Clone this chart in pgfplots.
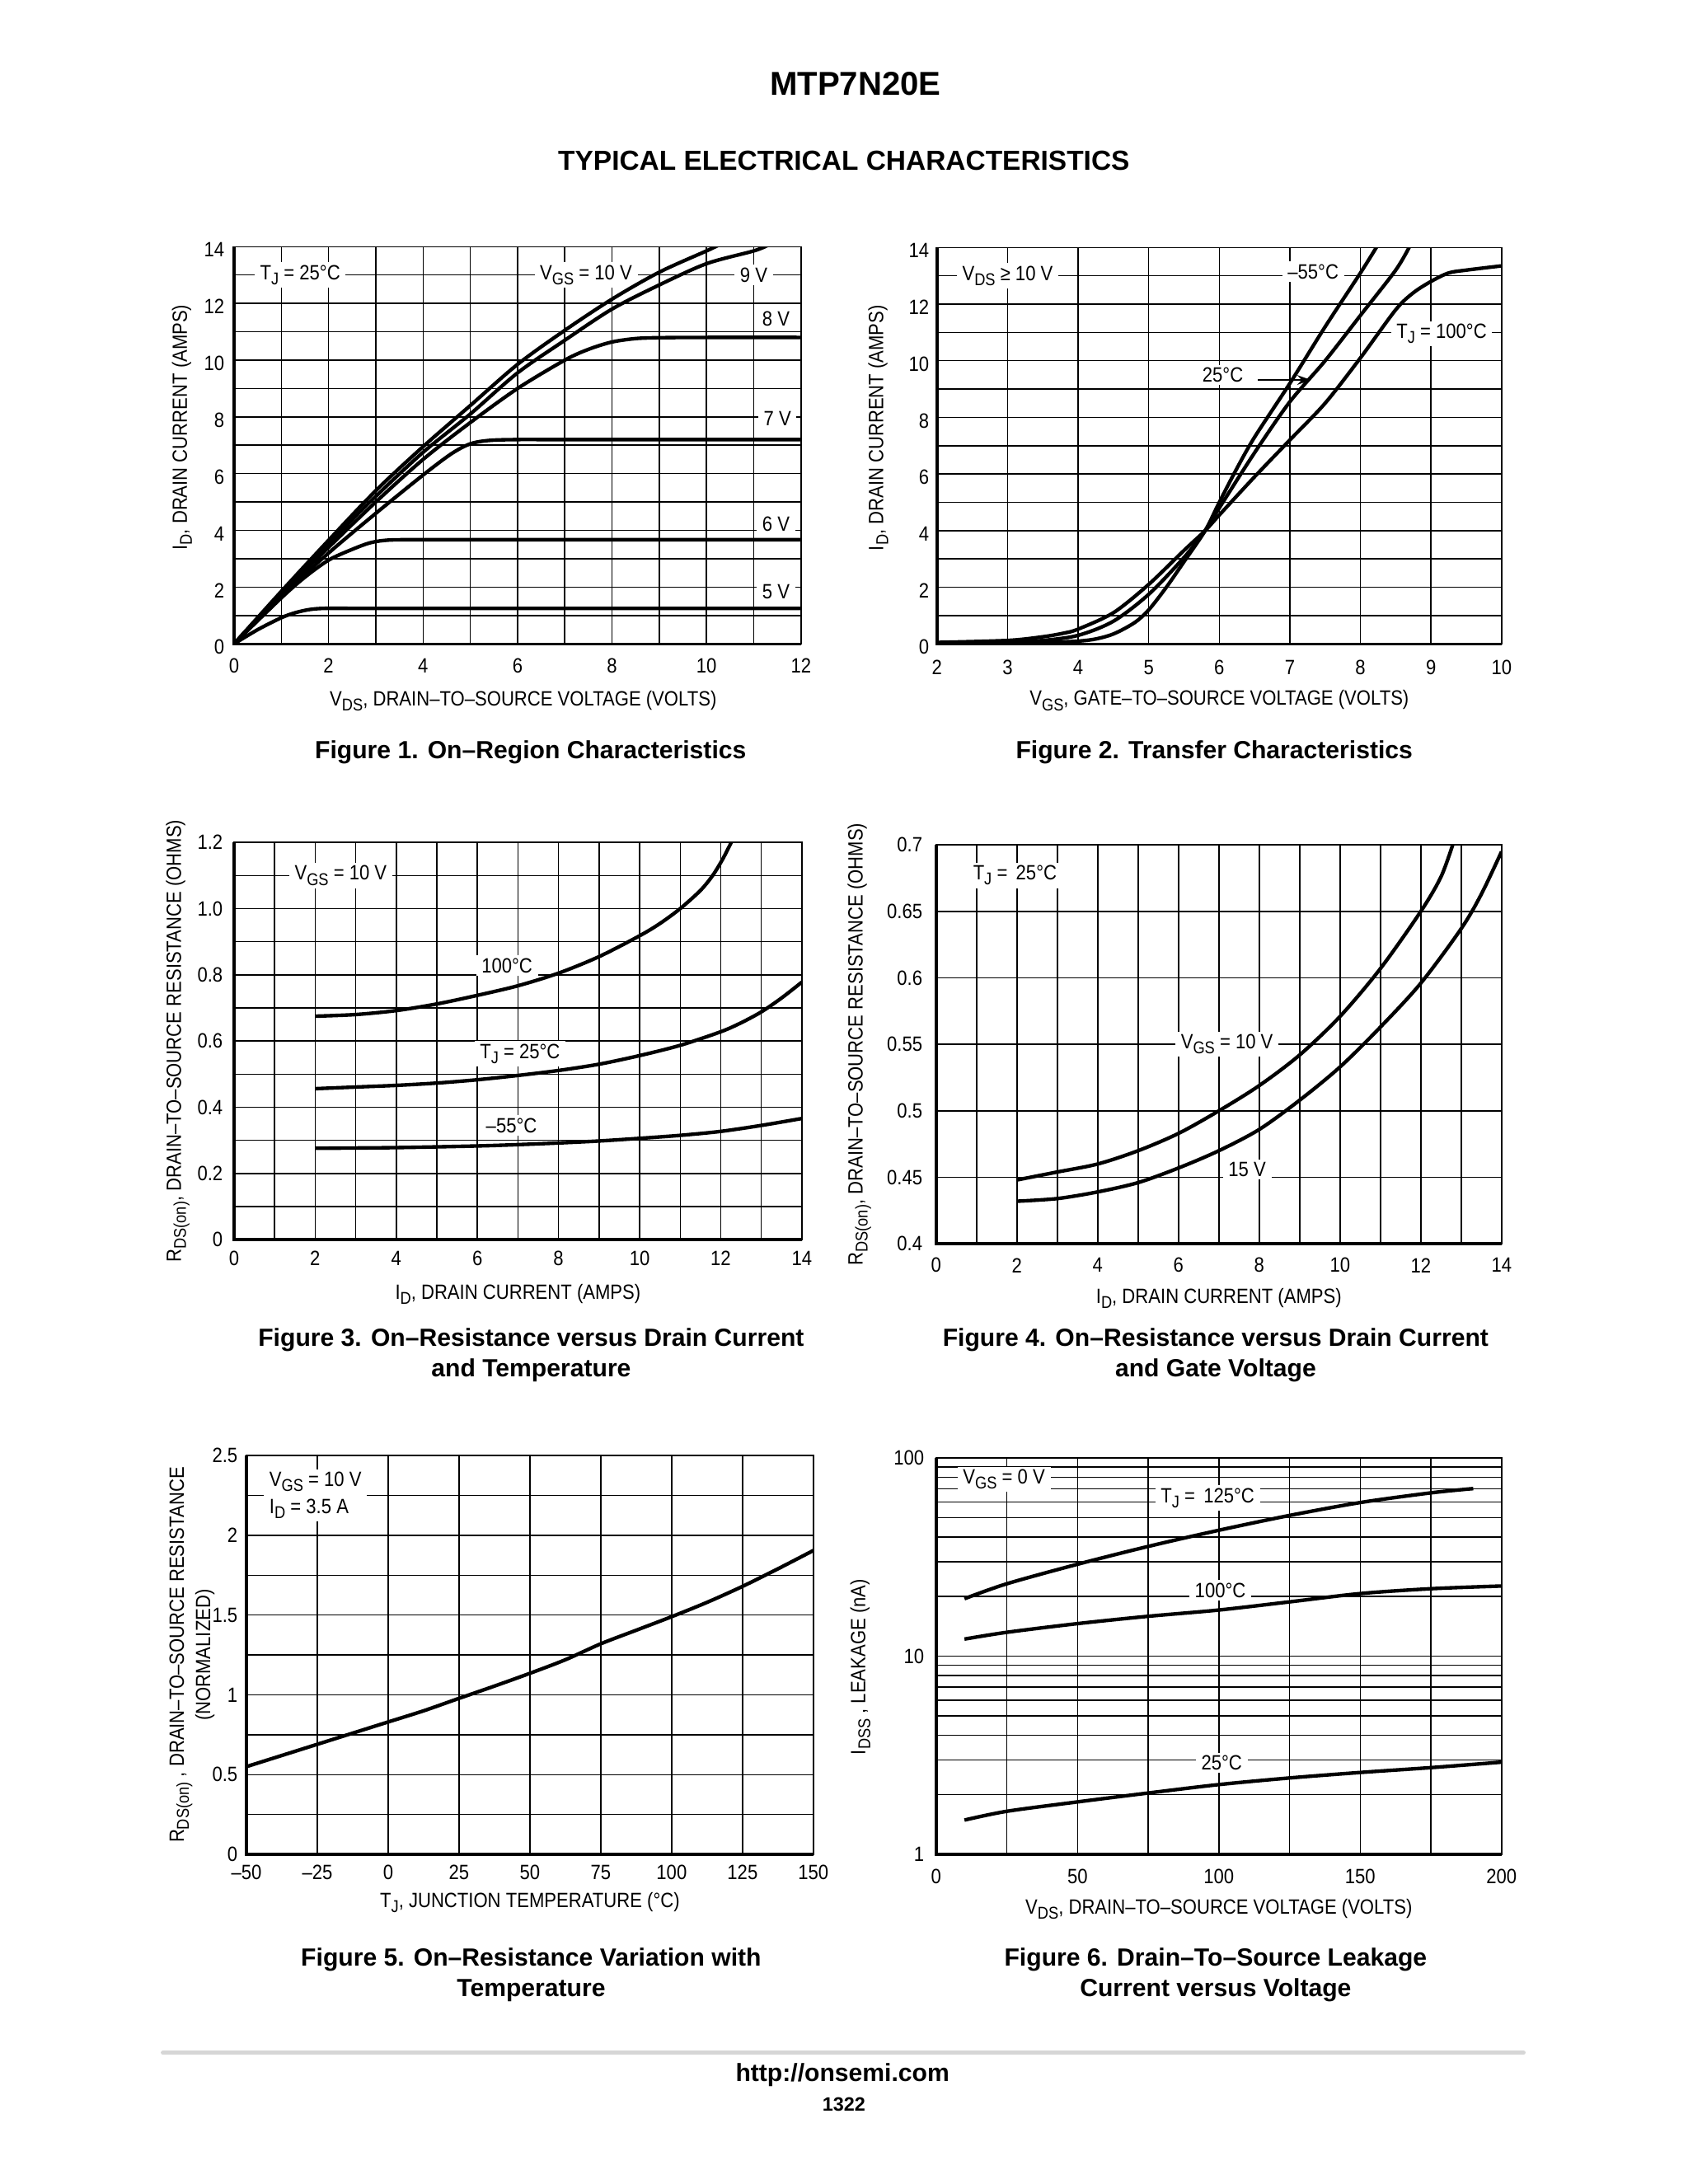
\documentclass[border=0pt]{standalone}
\usepackage{fontspec}
\setmainfont{Liberation Sans}
\newfontfamily\narrow[FakeStretch=0.88]{Liberation Sans}
\usepackage{pgfplots}
\pgfplotsset{compat=1.18}
\usetikzlibrary{arrows.meta}

\newcommand\tf{\narrow\fontsize{7.5}{9}\selectfont}
\newcommand\sub[1]{\raisebox{-1.8pt}{\fontsize{6.2}{6.2}\selectfont #1}}

\tikzset{lab/.style={fill=white, inner xsep=2pt, inner ysep=1pt, font=\tf}}
\pgfplotsset{
  dsheet/.style={
    scale only axis,
    anchor=south west,
    clip mode=individual,
    axis line style={line width=0.45pt},
    grid=both,
    major grid style={line width=0.45pt, black},
    minor grid style={line width=0.45pt, black},
    major tick length=0pt, minor tick length=0pt,
    tick label style={font=\tf},
    label style={font=\tf},
    xticklabel style={anchor=center, inner sep=0pt},
    yticklabel style={anchor=east, inner sep=0pt},
    xlabel style={anchor=center},
    ylabel style={anchor=center},
  },
  curve/.style={black, line width=1.3pt, mark=none, smooth, tension=0.5, line join=round},
}
\newcommand\boldframe{\draw[line width=1pt] (rel axis cs:0,1) -- (rel axis cs:0,0) -- (rel axis cs:1,0);}

\begin{document}
\begin{tikzpicture}
\path[use as bounding box] (0pt,0pt) rectangle (612pt,792pt);

\node[font=\bfseries\fontsize{12}{14}\selectfont] at (310.2pt,761.7pt) {MTP7N20E};
\node[font=\bfseries\fontsize{10}{12}\selectfont] at (306pt,733.8pt) {TYPICAL ELECTRICAL CHARACTERISTICS};

% ---------------- Figure 1
\begin{axis}[dsheet, at={(84.87pt,558.51pt)}, width=205.59pt, height=144.04pt,
  xmin=0, xmax=12, ymin=0, ymax=14,
  xtick={0,2,...,12}, xticklabels={0,2,4,6,8,10,12}, minor x tick num=1,
  ytick={0,2,...,14}, yticklabels={0,2,4,6,8,10,12,14}, minor y tick num=1,
  xticklabel style={yshift=-8pt}, yticklabel style={xshift=-3.3pt, yshift=-1.2pt},
  xlabel={V\sub{DS}, DRAIN–TO–SOURCE VOLTAGE (VOLTS)},
  ylabel={I\sub{D}, DRAIN CURRENT (AMPS)},
  xlabel style={at={(axis description cs:0.51,-0.143)}},
  ylabel style={at={(axis description cs:-0.092,0.545)}},
]
\node[lab] at (axis cs:1.4,13) {T\sub{J} = 25°C};
\node[lab] at (axis cs:7.45,13) {V\sub{GS} = 10 V};
\node[lab] at (axis cs:11.0,13) {9 V};
\node[lab] at (axis cs:11.47,11.45) {8 V};
\node[lab] at (axis cs:11.5,7.95) {7 V};
\node[lab] at (axis cs:11.47,4.23) {6 V};
\node[lab] at (axis cs:11.47,1.85) {5 V};
\addplot[curve] coordinates {(0,0) (1,1.85) (2,3.65) (3,5.4) (4,6.95) (5,8.4) (6,9.85) (7,11.05) (8,12.15) (9,13.1) (10,13.85) (10.25,14.05)};
\addplot[curve] coordinates {(0,0) (1,1.8) (2,3.55) (3,5.2) (4,6.75) (5,8.1) (6,9.55) (7,10.7) (8,11.8) (9,12.65) (10,13.4) (11,13.85) (11.3,14.05)};
\addplot[curve] coordinates {(0,0) (1,1.75) (2,3.4) (3,5.0) (4,6.5) (5,7.8) (6,9.0) (7,10.0) (7.5,10.38) (8,10.64) (8.5,10.76) (9,10.79) (10,10.8) (12,10.8)};
\addplot[curve] coordinates {(0,0) (1,1.68) (2,3.2) (3,4.6) (4,5.95) (4.6,6.7) (5,7.05) (5.4,7.17) (6,7.2) (7,7.2) (12,7.2)};
\addplot[curve] coordinates {(0,0) (1,1.62) (1.5,2.35) (2,2.95) (2.5,3.33) (2.9,3.57) (3.3,3.66) (4,3.67) (5,3.67) (12,3.67)};
\addplot[curve] coordinates {(0,0) (0.5,0.5) (1,0.92) (1.3,1.1) (1.6,1.21) (1.9,1.25) (2.5,1.25) (3,1.25) (12,1.25)};
\boldframe
\end{axis}
\node[font=\bfseries\fontsize{9}{11.1}\selectfont] at (192.4pt,519.2pt) {Figure 1. On–Region Characteristics};

% ---------------- Figure 2
\begin{axis}[dsheet, at={(339.77pt,558.51pt)}, width=204.70pt, height=143.74pt,
  xmin=2, xmax=10, ymin=0, ymax=14,
  xtick={2,...,10}, xticklabels={2,3,4,5,6,7,8,9,10},
  ytick={0,2,...,14}, yticklabels={0,2,4,6,8,10,12,14}, minor y tick num=1,
  xticklabel style={yshift=-8.5pt}, yticklabel style={xshift=-2.7pt, yshift=-1.2pt},
  xlabel={V\sub{GS}, GATE–TO–SOURCE VOLTAGE (VOLTS)},
  ylabel={I\sub{D}, DRAIN CURRENT (AMPS)},
  xlabel style={at={(axis description cs:0.5,-0.143)}},
  ylabel style={at={(axis description cs:-0.104,0.545)}},
]
\node[lab] at (axis cs:3.0,13) {V\sub{DS} ≥ 10 V};
\node[lab] at (axis cs:7.33,13.15) {–55°C};
\node[lab] at (axis cs:6.05,9.5) {25°C};
\node[lab] at (axis cs:9.15,10.95) {T\sub{J} = 100°C};
\addplot[curve] coordinates {(2,0.02) (3,0.04) (3.8,0.07) (4.2,0.15) (4.5,0.35) (4.8,0.75) (5,1.2) (5.25,2.0) (5.5,2.9) (5.8,4.0) (6,5.0) (6.25,6.2) (6.5,7.3) (7,9.2) (7.5,11.2) (8,13.1) (8.25,14.1)};
\addplot[curve] coordinates {(2,0.03) (3,0.06) (3.5,0.12) (4,0.3) (4.5,0.8) (5,1.75) (5.5,3.05) (5.8,4.0) (6,4.8) (6.5,6.75) (7,8.55) (7.5,10.0) (8,11.6) (8.5,13.2) (8.7,14.05)};
\addplot[curve] coordinates {(2,0.05) (3,0.12) (3.5,0.25) (3.8,0.38) (4,0.52) (4.5,1.1) (5,2.1) (5.5,3.3) (5.8,4.0) (6,4.55) (6.5,5.9) (7,7.2) (7.5,8.5) (8,10.1) (8.5,11.8) (8.75,12.4) (9,12.8) (9.25,13.1) (9.5,13.2) (10,13.35)};
\draw[line width=0.6pt,-{Stealth[length=5pt,width=3.5pt]}] (axis cs:6.55,9.32) -- (axis cs:7.3,9.32);
\boldframe
\end{axis}
\node[font=\bfseries\fontsize{9}{11.1}\selectfont] at (440.3pt,519.2pt) {Figure 2. Transfer Characteristics};

% ---------------- Figure 3
\begin{axis}[dsheet, at={(84.87pt,342.46pt)}, width=205.89pt, height=144.04pt,
  xmin=0, xmax=14, ymin=0, ymax=1.2,
  xtick={0,2,...,14}, xticklabels={0,2,4,6,8,10,12,14}, minor x tick num=1,
  ytick={0,0.2,0.4,0.6,0.8,1.0,1.2}, yticklabels={0,0.2,0.4,0.6,0.8,1.0,1.2}, minor y tick num=1,
  xticklabel style={yshift=-6.8pt}, yticklabel style={xshift=-3.9pt},
  xlabel={I\sub{D}, DRAIN CURRENT (AMPS)},
  ylabel={R\sub{DS(on)}, DRAIN–TO–SOURCE RESISTANCE (OHMS)},
  xlabel style={at={(axis description cs:0.5,-0.137)}},
  ylabel style={at={(axis description cs:-0.099,0.5)}},
]
\node[lab] at (axis cs:2.63,1.1) {V\sub{GS} = 10 V};
\node[lab] at (axis cs:6.73,0.828) {100°C};
\node[lab] at (axis cs:7.05,0.562) {T\sub{J} = 25°C};
\node[lab] at (axis cs:6.84,0.345) {–55°C};
\addplot[curve] coordinates {(2,0.675) (3,0.68) (4,0.692) (5,0.712) (6,0.738) (7,0.767) (8,0.805) (9,0.855) (10,0.918) (10.5,0.955) (11,1.0) (11.5,1.055) (11.8,1.1) (12.05,1.15) (12.3,1.21)};
\addplot[curve] coordinates {(2,0.456) (3,0.461) (4,0.466) (5,0.473) (6,0.483) (7,0.496) (8,0.511) (9,0.53) (10,0.556) (11,0.587) (12,0.628) (12.5,0.655) (13,0.688) (13.5,0.73) (14,0.778)};
\addplot[curve] coordinates {(2,0.276) (4,0.278) (6,0.283) (7,0.287) (8,0.292) (9,0.298) (10,0.306) (11,0.315) (12,0.327) (13,0.345) (14,0.366)};
\boldframe
\end{axis}
\node[font=\bfseries\fontsize{9}{11.1}\selectfont, align=center] at (192.6pt,300.5pt) {Figure 3. On–Resistance versus Drain Current\\and Temperature};

% ---------------- Figure 4
\begin{axis}[dsheet, at={(339.47pt,340.96pt)}, width=205.00pt, height=144.63pt,
  xmin=0, xmax=14, ymin=0.4, ymax=0.7,
  xtick={0,2,...,14}, xticklabels={0,2,4,6,8,10,12,14}, minor x tick num=1,
  ytick={0.4,0.45,0.5,0.55,0.6,0.65,0.7}, yticklabels={0.4,0.45,0.5,0.55,0.6,0.65,0.7},
  xticklabel style={yshift=-7.8pt}, yticklabel style={xshift=-4.8pt},
  xlabel={I\sub{D}, DRAIN CURRENT (AMPS)},
  ylabel={R\sub{DS(on)}, DRAIN–TO–SOURCE RESISTANCE (OHMS)},
  xlabel style={at={(axis description cs:0.5,-0.136)}},
  ylabel style={at={(axis description cs:-0.136,0.5)}},
]
\node[lab] at (axis cs:1.95,0.677) {T\sub{J} = \,25°C};
\node[lab] at (axis cs:7.2,0.55) {V\sub{GS} = 10 V};
\node[lab] at (axis cs:7.7,0.456) {15 V};
\addplot[curve] coordinates {(2,0.448) (3,0.454) (4,0.46) (5,0.47) (6,0.483) (7,0.5) (8,0.519) (9,0.542) (10,0.571) (11,0.607) (12,0.65) (12.5,0.676) (12.8,0.701)};
\addplot[curve] coordinates {(2,0.432) (3,0.434) (4,0.439) (5,0.446) (6,0.457) (7,0.47) (8,0.486) (9,0.508) (10,0.533) (11,0.563) (12,0.596) (13,0.637) (13.5,0.663) (14,0.695)};
\boldframe
\end{axis}
\node[font=\bfseries\fontsize{9}{11.1}\selectfont, align=center] at (440.8pt,300.5pt) {Figure 4. On–Resistance versus Drain Current\\and Gate Voltage};

% ---------------- Figure 5
\begin{axis}[dsheet, at={(89.35pt,119.53pt)}, width=205.59pt, height=144.63pt,
  xmin=-50, xmax=150, ymin=0, ymax=2.5,
  xtick={-50,-25,0,25,50,75,100,125,150}, xticklabels={–50,–25,0,25,50,75,100,125,150},
  ytick={0,0.5,1,1.5,2,2.5}, yticklabels={0,0.5,1,1.5,2,2.5}, minor y tick num=1,
  xticklabel style={yshift=-6.5pt}, yticklabel style={xshift=-3pt},
  xlabel={T\sub{J}, JUNCTION TEMPERATURE (°C)},
  ylabel={R\sub{DS(on)} , DRAIN–TO–SOURCE RESISTANCE\\(NORMALIZED)},
  xlabel style={at={(axis description cs:0.5,-0.12)}},
  ylabel style={at={(axis description cs:-0.096,0.5)}, align=center, font=\narrow\fontsize{7.5}{6.2}\selectfont},
]
\node[lab, anchor=west, align=left, font=\narrow\fontsize{7.5}{9.9}\selectfont] at (axis cs:-44,2.25) {V\sub{GS} = 10 V\\I\sub{D} = 3.5 A};
\addplot[curve] coordinates {(-50,0.55) (-37.5,0.62) (-25,0.69) (-12.5,0.76) (0,0.83) (12.5,0.9) (25,0.978) (37.5,1.055) (50,1.135) (62.5,1.22) (75,1.32) (87.5,1.405) (100,1.49) (112.5,1.58) (125,1.68) (137.5,1.79) (150,1.905)};
\boldframe
\end{axis}
\node[font=\bfseries\fontsize{9}{11.1}\selectfont, align=center] at (192.6pt,75.85pt) {Figure 5. On–Resistance Variation with\\Temperature};

% ---------------- Figure 6
\begin{axis}[dsheet, at={(339.47pt,119.53pt)}, width=205.00pt, height=143.74pt,
  xmin=0, xmax=200, ymin=1, ymax=100, ymode=log,
  xtick={0,50,100,150,200}, xticklabels={0,50,100,150,200}, minor x tick num=1,
  ytick={1,10,100}, yticklabels={1,10,100},
  minor ytick={2,3,4,5,6,7,8,9,20,30,40,50,60,70,80,90},
  xticklabel style={yshift=-8pt}, yticklabel style={xshift=-4.2pt},
  xlabel={V\sub{DS}, DRAIN–TO–SOURCE VOLTAGE (VOLTS)},
  ylabel={I\sub{DSS} , LEAKAGE (nA)},
  xlabel style={at={(axis description cs:0.5,-0.139)}},
  ylabel style={at={(axis description cs:-0.134,0.473)}},
]
\node[lab] at (axis cs:24,78) {V\sub{GS} = 0 V};
\node[lab] at (axis cs:96,63) {T\sub{J} = \,125°C};
\node[lab] at (axis cs:100.5,21.5) {100°C};
\node[lab] at (axis cs:101,2.9) {25°C};
\addplot[curve] coordinates {(10,19.5) (25,23.2) (50,29.1) (75,35.8) (100,43.2) (125,51.3) (150,59.6) (175,66.7) (190,70.1)};
\addplot[curve] coordinates {(10,12.2) (25,13.2) (50,14.6) (75,15.9) (100,17.1) (125,18.8) (150,20.7) (175,21.9) (200,22.6)};
\addplot[curve] coordinates {(10,1.49) (25,1.65) (50,1.84) (75,2.04) (100,2.25) (125,2.43) (150,2.59) (175,2.74) (200,2.92)};
\boldframe
\end{axis}
\node[font=\bfseries\fontsize{9}{11.1}\selectfont, align=center] at (440.8pt,75.85pt) {Figure 6. Drain–To–Source Leakage\\Current versus Voltage};

% ---------------- footer
\draw[line width=1.6pt, black!16, line cap=round] (59.1pt,47.6pt) -- (552.4pt,47.6pt);
\node[font=\bfseries\fontsize{9}{11}\selectfont] at (305.5pt,39.5pt) {http://onsemi.com};
\node[font=\bfseries\fontsize{7}{9}\selectfont] at (306pt,28.9pt) {1322};
\end{tikzpicture}
\end{document}
